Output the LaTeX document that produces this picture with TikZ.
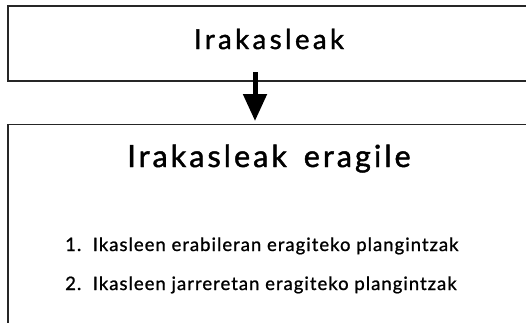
\documentclass[tikz,border=0pt]{standalone}
\usepackage{fontspec}
\setmainfont{Lato}
\usetikzlibrary{arrows.meta}
\begin{document}
\begin{tikzpicture}[x=1pt,y=-1pt,
  box/.style={draw=black!85,line width=1.8pt,rectangle,anchor=north west,inner sep=0pt},
  title/.style={anchor=base,inner sep=0pt},
  item/.style={font=\fontsize{18.5}{22}\selectfont\addfontfeatures{LetterSpace=5.5,FakeBold=1},anchor=base west,inner sep=0pt}]
\useasboundingbox (0,0) rectangle (526,322);
\clip (0,0) rectangle (526,322);
\node[box,minimum width=540pt,minimum height=75pt] (top) at (7,5) {};
\node[box,minimum width=540pt,minimum height=230pt] (bot) at (7,123.5) {};
\node[title,font=\fontsize{27.5}{30}\selectfont\addfontfeatures{LetterSpace=12.5,FakeBold=1.5}] (t1) at (269,49) {Irakasleak};
\node[title,font=\fontsize{30.5}{34}\selectfont\addfontfeatures{LetterSpace=10,FakeBold=1.5}] (t2) at (269,167) {Irakasleak\hspace{6pt} eragile};
\node[item] (i1) at (65,251) {1.\ \ Ikasleen erabileran eragiteko plangintzak};
\node[item] (i2) at (65,290) {2.\ \ Ikasleen jarreretan eragiteko plangintzak};
\coordinate (a0) at (255,72);
\coordinate (a1) at (255,121);
\draw[line width=5pt,-{Triangle[width=23pt,length=27pt]}] (a0) -- (a1);
\end{tikzpicture}
\end{document}
